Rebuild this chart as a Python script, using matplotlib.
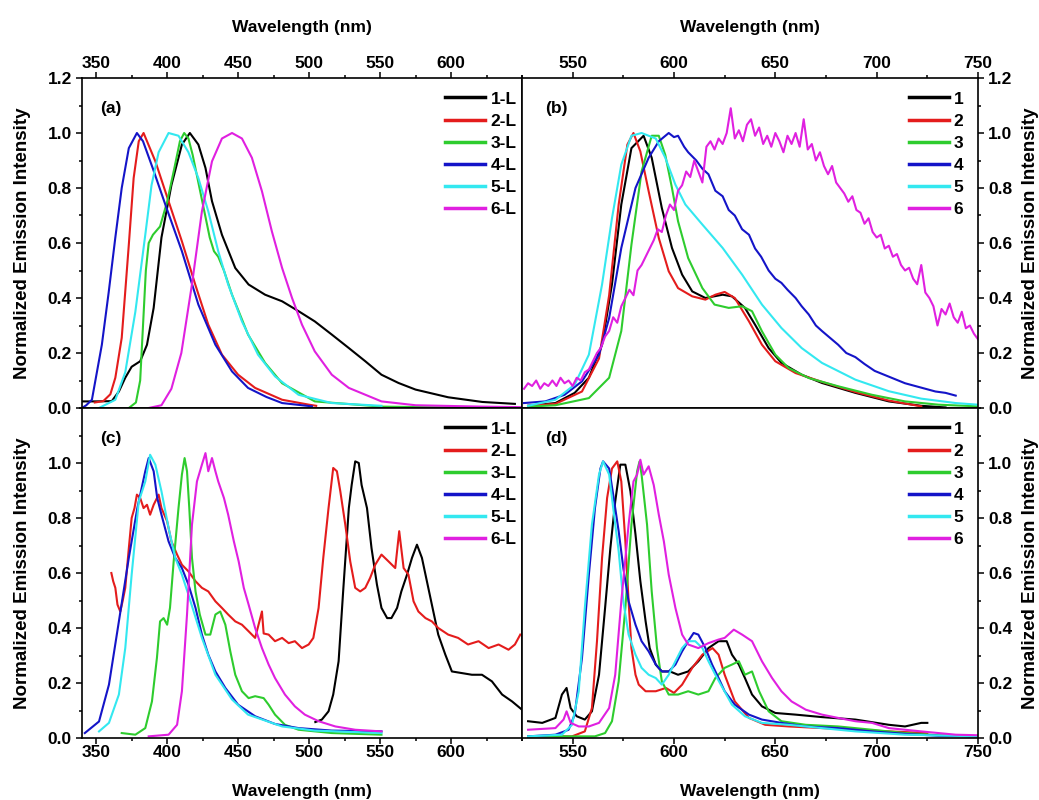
import matplotlib.pyplot as plt
from matplotlib.ticker import MultipleLocator
import numpy as np

plt.rcParams['font.family'] = ['Liberation Sans', 'DejaVu Sans']
plt.rcParams['font.weight'] = 'bold'
plt.rcParams['font.size'] = 12

colors = ['#000000', '#e41c1c', '#2ecc2e', '#1414c8', '#33e8f0', '#e020e0']
names_left = ['1-L', '2-L', '3-L', '4-L', '5-L', '6-L']
names_right = ['1', '2', '3', '4', '5', '6']

# ---- (a) ligands, solution ----
a1_x = [340, 350, 361, 366, 370.5, 375, 381, 385.8, 390.5, 396, 403, 410.4, 416, 422, 427, 431.6,
        438.6, 448, 457.4, 469, 481, 492.6, 504, 516, 528, 539.6, 551, 563, 575, 598, 622, 645]
a1_y = [0.024, 0.024, 0.025, 0.06, 0.11, 0.15, 0.17, 0.23, 0.364, 0.62, 0.81, 0.958, 1.0, 0.958, 0.873, 0.752,
        0.63, 0.509, 0.449, 0.412, 0.388, 0.352, 0.315, 0.267, 0.218, 0.17, 0.121, 0.091, 0.067, 0.039, 0.022, 0.015]
a2_x = [349, 355, 360, 363.5, 368, 373, 376.4, 380, 383.4, 391.7, 401, 410.4, 419.8, 429, 438.6, 450,
        462, 481, 500, 505]
a2_y = [0.02, 0.025, 0.05, 0.11, 0.255, 0.594, 0.836, 0.97, 1.0, 0.897, 0.752, 0.606, 0.449, 0.303, 0.194, 0.121,
        0.073, 0.03, 0.012, 0.008]
a3_x = [373, 378, 381, 383, 385, 387, 390, 395, 400, 405, 409, 412, 415, 418, 422, 426, 430, 433, 436, 440,
        445.7, 457, 469, 481, 504, 551, 600, 650]
a3_y = [0.0, 0.02, 0.1, 0.3, 0.5, 0.6, 0.63, 0.66, 0.75, 0.87, 0.97, 1.0, 0.98, 0.92, 0.82, 0.72, 0.62, 0.57, 0.55, 0.5,
        0.412, 0.267, 0.164, 0.09, 0.024, 0.005, 0.002, 0.0]
a4_x = [340, 343, 347, 354, 358.8, 363.5, 368, 373, 378.7, 383, 390, 398.7, 410.4, 422, 434, 445.7, 457, 470, 481, 502]
a4_y = [0.0, 0.01, 0.03, 0.23, 0.42, 0.62, 0.8, 0.945, 1.0, 0.97, 0.87, 0.74, 0.57, 0.376, 0.23, 0.133, 0.073, 0.04,
        0.018, 0.006]
a5_x = [352, 363.5, 370.5, 377.6, 384.6, 389, 394, 401, 408, 415, 422, 429, 436, 443, 452.7, 464, 476, 492.6, 516, 551]
a5_y = [0.0, 0.03, 0.13, 0.35, 0.63, 0.81, 0.93, 1.0, 0.99, 0.93, 0.836, 0.715, 0.57, 0.449, 0.315, 0.194, 0.115,
        0.048, 0.018, 0.008]
a6_x = [387, 396, 403, 410, 417.5, 424.5, 431.6, 438.6, 445.7, 452.7, 459.7, 466.8, 473.8, 481, 488, 495, 504, 516,
        528, 551, 575, 622, 650]
a6_y = [0.0, 0.01, 0.07, 0.2, 0.45, 0.715, 0.897, 0.98, 1.0, 0.98, 0.91, 0.788, 0.642, 0.509, 0.4, 0.303, 0.206, 0.121,
        0.073, 0.024, 0.01, 0.005, 0.003]

# ---- (b) complexes, solution ----
b1_x = [528, 541.5, 551, 558, 564.5, 569.4, 574, 579, 585, 589, 594, 599, 604, 609, 615.5, 624, 628.6, 635, 640,
        646.7, 653, 663, 673, 689.5, 706, 722, 734]
b1_y = [0.008, 0.018, 0.055, 0.11, 0.23, 0.45, 0.74, 0.945, 0.99, 0.91, 0.727, 0.582, 0.485, 0.424, 0.4, 0.412, 0.406,
        0.364, 0.303, 0.218, 0.164, 0.121, 0.091, 0.055, 0.024, 0.008, 0.002]
b2_x = [528, 541.5, 554.6, 563, 568, 572.7, 577, 580, 583.4, 587.5, 592.5, 597.4, 602, 609, 615.5, 620.4, 625, 630,
        637, 643.4, 650, 660, 673, 689.5, 706, 722]
b2_y = [0.008, 0.015, 0.06, 0.18, 0.41, 0.74, 0.958, 1.0, 0.933, 0.788, 0.618, 0.497, 0.436, 0.406, 0.394, 0.412,
        0.422, 0.4, 0.315, 0.23, 0.17, 0.127, 0.095, 0.058, 0.027, 0.006]
b3_x = [528, 541.5, 558, 568, 574, 579, 584, 589, 592.5, 595.7, 599, 602, 607, 614, 620, 627, 633.6, 638.5, 643.4,
        650, 656.6, 666.5, 681, 697.7, 714, 730.6, 750]
b3_y = [0.005, 0.01, 0.036, 0.11, 0.28, 0.594, 0.86, 0.99, 0.99, 0.92, 0.8, 0.679, 0.545, 0.436, 0.376, 0.364, 0.37,
        0.352, 0.279, 0.194, 0.145, 0.109, 0.079, 0.048, 0.024, 0.012, 0.006]
b4_x = [526, 536.5, 546, 554.6, 563, 568, 574, 581, 587.5, 592.5, 597.4, 600, 602, 605, 607, 611, 614, 617, 620.4,
        624, 627, 630, 633.6, 637, 640, 643, 646.7, 650, 653, 656, 660, 663, 666.5, 670, 673, 677, 681, 685, 689.5,
        694, 699, 704, 709, 714, 719, 724, 729, 734, 739]
b4_y = [0.018, 0.024, 0.048, 0.097, 0.194, 0.327, 0.582, 0.8, 0.91, 0.97, 1.0, 0.985, 0.99, 0.95, 0.93, 0.9, 0.87,
        0.85, 0.79, 0.77, 0.72, 0.70, 0.65, 0.63, 0.58, 0.55, 0.50, 0.47, 0.455, 0.43, 0.40, 0.37, 0.34, 0.30, 0.28,
        0.255, 0.23, 0.20, 0.185, 0.16, 0.135, 0.12, 0.105, 0.09, 0.08, 0.07, 0.06, 0.055, 0.045]
b5_x = [528, 541.5, 551, 558, 564.5, 569.4, 574, 579, 584, 591, 595.7, 600.7, 605.6, 614, 624, 633.6, 643.4, 653,
        663, 673, 689.5, 706, 722, 739, 750]
b5_y = [0.008, 0.03, 0.085, 0.194, 0.449, 0.69, 0.885, 0.99, 1.0, 0.98, 0.91, 0.812, 0.74, 0.667, 0.582, 0.485, 0.376,
        0.291, 0.218, 0.164, 0.103, 0.061, 0.034, 0.018, 0.012]
b6_x = np.arange(526, 751, 2)
b6_y = [0.07, 0.09, 0.08, 0.10, 0.07, 0.09, 0.08, 0.10, 0.08, 0.11, 0.09, 0.10, 0.08, 0.11, 0.10, 0.13,
        0.14, 0.17, 0.20, 0.22, 0.26, 0.28, 0.33, 0.31, 0.37, 0.40, 0.43, 0.41, 0.50, 0.52, 0.55, 0.58,
        0.61, 0.65, 0.64, 0.70, 0.74, 0.72, 0.79, 0.81, 0.86, 0.84, 0.90, 0.86, 0.82, 0.95, 0.97, 0.94,
        0.98, 0.96, 1.00, 1.09, 0.98, 1.01, 0.97, 1.03, 1.05, 0.99, 1.02, 0.96, 0.99, 0.95, 1.00, 0.97,
        0.93, 0.99, 0.96, 1.00, 0.95, 1.05, 0.94, 0.96, 0.90, 0.93, 0.88, 0.85, 0.88, 0.82, 0.80, 0.78,
        0.75, 0.77, 0.72, 0.71, 0.67, 0.69, 0.64, 0.62, 0.63, 0.58, 0.59, 0.55, 0.56, 0.52, 0.50, 0.51,
        0.47, 0.45, 0.52, 0.42, 0.40, 0.37, 0.30, 0.36, 0.34, 0.38, 0.33, 0.31, 0.35, 0.29, 0.30, 0.27,
        0.25]

# ---- (c) ligands, solid ----
c1_x = [504.4, 509, 513.7, 517, 520.8, 524, 528, 530, 532.5, 535, 537, 540.8, 544, 547.8, 551, 555, 558, 562, 565,
        569, 572.5, 576, 579.5, 583, 586.5, 591, 596, 600.6, 607.7, 614.7, 621.8, 628.8, 636, 643, 650]
c1_y = [0.058, 0.067, 0.097, 0.158, 0.279, 0.533, 0.836, 0.92, 1.006, 1.0, 0.92, 0.836, 0.69, 0.558, 0.473, 0.436,
        0.436, 0.473, 0.533, 0.594, 0.655, 0.703, 0.655, 0.57, 0.485, 0.376, 0.303, 0.242, 0.236, 0.23, 0.23, 0.206,
        0.158, 0.133, 0.103]
c2_x = [360.7, 362, 363.5, 365, 367, 368.6, 370.5, 373, 375, 377, 378.7, 381, 383.4, 385.8, 388, 390.5, 394, 396,
        400, 403, 407, 410.4, 415, 420, 424.5, 429, 434, 438.6, 443, 448, 452.7, 457.4, 462, 466.8, 468, 471.5, 476,
        481, 485.6, 490, 495, 499.7, 503, 506.7, 510, 513.7, 517, 519.6, 522, 525.5, 529, 532.5, 536, 539.6, 543,
        546.6, 551, 556, 560.7, 563.5, 566.6, 570, 573.6, 577, 582, 586.5, 591, 598, 605, 612, 619.4, 626.5, 633.5,
        640.5, 645, 648.8]
c2_y = [0.6, 0.57, 0.546, 0.485, 0.46, 0.497, 0.546, 0.69, 0.8, 0.836, 0.885, 0.873, 0.836, 0.848, 0.812, 0.848,
        0.885, 0.836, 0.788, 0.715, 0.667, 0.63, 0.606, 0.57, 0.546, 0.533, 0.497, 0.473, 0.449, 0.424, 0.412, 0.388,
        0.364, 0.46, 0.38, 0.376, 0.352, 0.364, 0.345, 0.352, 0.327, 0.34, 0.364, 0.473, 0.655, 0.836, 0.982, 0.97,
        0.897, 0.776, 0.642, 0.546, 0.533, 0.546, 0.582, 0.63, 0.667, 0.642, 0.618, 0.752, 0.618, 0.594, 0.497,
        0.46, 0.436, 0.424, 0.4, 0.376, 0.364, 0.34, 0.352, 0.327, 0.34, 0.321, 0.34, 0.376]
c3_x = [368, 377.6, 384.6, 389.3, 392.8, 395, 397.5, 400, 402, 404.6, 408, 410.4, 412.3, 414, 415.6, 417.5, 420,
        423, 427, 430.4, 434, 437.4, 441, 444.5, 448, 452.7, 457.4, 462, 468, 471.5, 476, 483, 492.6, 516, 551]
c3_y = [0.018, 0.012, 0.036, 0.133, 0.291, 0.424, 0.436, 0.412, 0.473, 0.642, 0.836, 0.958, 1.018, 0.97, 0.836,
        0.655, 0.533, 0.449, 0.376, 0.376, 0.449, 0.46, 0.412, 0.315, 0.23, 0.17, 0.145, 0.152, 0.145, 0.121, 0.085,
        0.048, 0.03, 0.018, 0.012]
c4_x = [342, 352, 359, 366, 373, 379, 384.6, 387, 390.5, 393, 396, 401, 405.7, 410.4, 415, 420, 424.5, 429, 434,
        441, 450, 462, 476, 492.6, 516, 551]
c4_y = [0.018, 0.06, 0.194, 0.424, 0.655, 0.836, 0.97, 1.018, 0.97, 0.873, 0.812, 0.715, 0.655, 0.618, 0.558, 0.473,
        0.376, 0.303, 0.242, 0.182, 0.121, 0.079, 0.051, 0.036, 0.027, 0.024]
c5_x = [352, 359, 366, 370.5, 375, 380, 384.6, 388, 391.7, 396, 401, 405.7, 410.4, 415, 424.5, 434, 445.7, 457, 481,
        504, 551]
c5_y = [0.024, 0.055, 0.158, 0.327, 0.594, 0.86, 0.933, 1.03, 0.994, 0.897, 0.764, 0.655, 0.594, 0.521, 0.364, 0.23,
        0.14, 0.085, 0.042, 0.027, 0.018]
c6_x = [387, 401, 407, 410.4, 414, 417.5, 421, 424.5, 427, 429, 431.6, 434, 436, 440, 443, 447, 450.4, 454, 457.4,
        462, 466.8, 471.5, 476, 483, 490, 497, 506.7, 518.5, 532.5, 551]
c6_y = [0.006, 0.012, 0.048, 0.17, 0.449, 0.776, 0.933, 0.994, 1.036, 0.97, 1.018, 0.97, 0.933, 0.873, 0.812, 0.715,
        0.642, 0.546, 0.485, 0.4, 0.327, 0.267, 0.218, 0.158, 0.115, 0.085, 0.061, 0.042, 0.03, 0.024]

# ---- (d) complexes, solid ----
d1_x = [528, 535, 541.5, 544.7, 547, 549, 552, 556, 559.5, 563, 566, 568.6, 571, 573.5, 576, 578.5, 581, 583.4, 586,
        588, 591, 594, 598, 602, 607, 612, 617, 622, 626, 628.6, 632, 635, 638.5, 643.4, 650, 660, 673, 689.5, 706,
        714, 722, 725]
d1_y = [0.061, 0.055, 0.073, 0.158, 0.182, 0.109, 0.079, 0.067, 0.097, 0.23, 0.473, 0.69, 0.86, 0.994, 0.994, 0.897,
        0.74, 0.57, 0.424, 0.327, 0.267, 0.242, 0.242, 0.23, 0.242, 0.279, 0.327, 0.352, 0.352, 0.303, 0.267, 0.218,
        0.158, 0.115, 0.091, 0.085, 0.076, 0.067, 0.048, 0.042, 0.055, 0.055]
d2_x = [528, 549.7, 556, 559.5, 562, 564.5, 567, 569.4, 572, 574, 576, 577.6, 579, 581, 582.6, 586, 591, 596, 600,
        604, 609, 614, 619, 622, 625, 630, 637, 645, 656.6, 673, 689.5, 706, 725]
d2_y = [0.006, 0.006, 0.024, 0.109, 0.352, 0.655, 0.873, 0.98, 1.006, 0.933, 0.715, 0.497, 0.327, 0.23, 0.194, 0.17,
        0.17, 0.182, 0.164, 0.194, 0.255, 0.303, 0.327, 0.303, 0.23, 0.133, 0.073, 0.048, 0.042, 0.036, 0.03, 0.024,
        0.018]
d3_x = [528, 561, 566, 569.4, 572.7, 576, 579, 581.8, 583, 584, 586.7, 589, 591.6, 594, 597.4, 602, 607, 612, 617,
        620.4, 625, 628.6, 632, 635, 638.5, 642, 646.7, 653, 665, 681, 697.7, 714, 730.6, 750]
d3_y = [0.006, 0.006, 0.018, 0.061, 0.206, 0.473, 0.776, 0.97, 1.006, 0.958, 0.776, 0.533, 0.327, 0.206, 0.158, 0.158,
        0.17, 0.158, 0.17, 0.218, 0.255, 0.267, 0.279, 0.23, 0.242, 0.17, 0.097, 0.061, 0.048, 0.042, 0.03, 0.018,
        0.01, 0.006]
d4_x = [528, 541.5, 548, 551, 554.6, 558, 561, 563.7, 565, 568, 570, 572.7, 575, 577.6, 581, 584, 587.5, 591, 594,
        597.4, 600.7, 604, 607, 609.7, 612, 615.5, 618.8, 622, 625, 630, 637, 643.4, 653, 665, 681, 697.7, 714,
        730.6, 750]
d4_y = [0.006, 0.012, 0.03, 0.085, 0.291, 0.594, 0.836, 0.98, 1.006, 0.98, 0.885, 0.752, 0.618, 0.497, 0.412, 0.352,
        0.315, 0.267, 0.242, 0.242, 0.267, 0.315, 0.352, 0.382, 0.376, 0.327, 0.267, 0.218, 0.17, 0.121, 0.085,
        0.067, 0.055, 0.042, 0.036, 0.024, 0.015, 0.008, 0.006]
d5_x = [528, 544.7, 549.7, 553, 556, 559.5, 563, 565, 568, 570, 572.7, 575, 577.6, 581, 584, 587.5, 591, 594, 597.4,
        600.7, 604, 607, 610.5, 614, 617, 620.4, 624, 628.6, 635, 643.4, 656.6, 673, 689.5, 714, 750]
d5_y = [0.006, 0.012, 0.048, 0.17, 0.473, 0.776, 0.958, 1.006, 0.958, 0.836, 0.679, 0.497, 0.376, 0.303, 0.255,
        0.23, 0.218, 0.194, 0.23, 0.279, 0.327, 0.352, 0.352, 0.327, 0.279, 0.23, 0.182, 0.121, 0.079, 0.055, 0.048,
        0.036, 0.024, 0.012, 0.006]
d6_x = [528, 541.5, 545.5, 547, 549, 553, 558, 563, 568, 571, 574, 577.6, 580, 581.8, 583.4, 585, 587.5, 590, 592.5,
        595, 597.4, 600.7, 604, 607, 612, 617, 622, 625, 629.5, 633.6, 638.5, 643.4, 648.4, 653, 658, 665, 673, 681,
        689.5, 697.7, 706, 722, 739, 750]
d6_y = [0.03, 0.036, 0.067, 0.097, 0.055, 0.042, 0.042, 0.055, 0.109, 0.23, 0.497, 0.776, 0.933, 0.958, 1.012, 0.958,
        0.988, 0.92, 0.812, 0.715, 0.594, 0.473, 0.376, 0.34, 0.327, 0.345, 0.358, 0.364, 0.394, 0.376, 0.352, 0.279,
        0.218, 0.17, 0.133, 0.103, 0.085, 0.073, 0.061, 0.055, 0.036, 0.024, 0.012, 0.01]

panels = {
    'a': ([a1_x, a2_x, a3_x, a4_x, a5_x, a6_x], [a1_y, a2_y, a3_y, a4_y, a5_y, a6_y], names_left),
    'b': ([b1_x, b2_x, b3_x, b4_x, b5_x, b6_x], [b1_y, b2_y, b3_y, b4_y, b5_y, b6_y], names_right),
    'c': ([c1_x, c2_x, c3_x, c4_x, c5_x, c6_x], [c1_y, c2_y, c3_y, c4_y, c5_y, c6_y], names_left),
    'd': ([d1_x, d2_x, d3_x, d4_x, d5_x, d6_x], [d1_y, d2_y, d3_y, d4_y, d5_y, d6_y], names_right),
}

fig = plt.figure(figsize=(10.39, 8.0), dpi=100)
x0, xm, x1 = 0.0789, 0.5024, 0.9413
y0, ym, y1 = 0.0775, 0.49, 0.9025
boxes = {
    'a': [x0, ym, xm - x0, y1 - ym],
    'b': [xm, ym, x1 - xm, y1 - ym],
    'c': [x0, y0, xm - x0, ym - y0],
    'd': [xm, y0, x1 - xm, ym - y0],
}

for key in ['a', 'b', 'c', 'd']:
    ax = fig.add_axes(boxes[key])
    xs, ys, names = panels[key]
    for x, y, c, n in zip(xs, ys, colors, names):
        ax.plot(x, y, color=c, lw=1.5, label=n)

    left = key in ('a', 'c')
    top = key in ('a', 'b')

    if left:
        ax.set_xlim(340, 650)
        ax.set_xticks([350, 400, 450, 500, 550, 600])
    else:
        ax.set_xlim(525, 750)
        ax.set_xticks([550, 600, 650, 700, 750])
    ax.xaxis.set_minor_locator(MultipleLocator(25))
    ax.set_ylim(0, 1.2)
    if top:
        ax.set_yticks([0, 0.2, 0.4, 0.6, 0.8, 1.0, 1.2])
    else:
        ax.set_yticks([0, 0.2, 0.4, 0.6, 0.8, 1.0])
    ax.yaxis.set_minor_locator(MultipleLocator(0.1))
    ax.yaxis.set_major_formatter(plt.FormatStrFormatter('%.1f'))

    ax.tick_params(which='both', direction='out', width=1.1, labelsize=12.5,
                   top=top, bottom=not top, labeltop=top, labelbottom=not top,
                   left=left, right=not left, labelleft=left, labelright=not left)
    ax.tick_params(which='major', length=4.2)
    ax.tick_params(which='minor', length=2.5)
    ax.tick_params(axis='x', pad=1)
    ax.tick_params(axis='y', pad=3)
    for s in ax.spines.values():
        s.set_linewidth(1.2)

    if top:
        ax.set_xlabel('Wavelength (nm)', fontsize=12.5, fontweight='bold', labelpad=17)
        ax.xaxis.set_label_position('top')
    else:
        ax.set_xlabel('Wavelength (nm)', fontsize=12.5, fontweight='bold', labelpad=17)
    if left:
        ax.set_ylabel('Normalized Emission Intensity', fontsize=13.5, fontweight='bold', labelpad=12)
    else:
        ax.set_ylabel('Normalized Emission Intensity', fontsize=13.5, fontweight='bold', labelpad=7)
        ax.yaxis.set_label_position('right')

    ax.text(0.042 if left else 0.05, 0.909, '(' + key + ')', transform=ax.transAxes,
            fontsize=12.5, fontweight='bold', va='center')
    leg = ax.legend(loc='upper right', bbox_to_anchor=(0.996 if left else 0.976, 0.97), frameon=False,
                    fontsize=12.5, handlelength=2.3, handletextpad=0.3, labelspacing=0.4,
                    borderpad=0.2, borderaxespad=0)
    for line in leg.get_lines():
        line.set_linewidth(2.5)

fig.savefig('out.png', dpi=100)
